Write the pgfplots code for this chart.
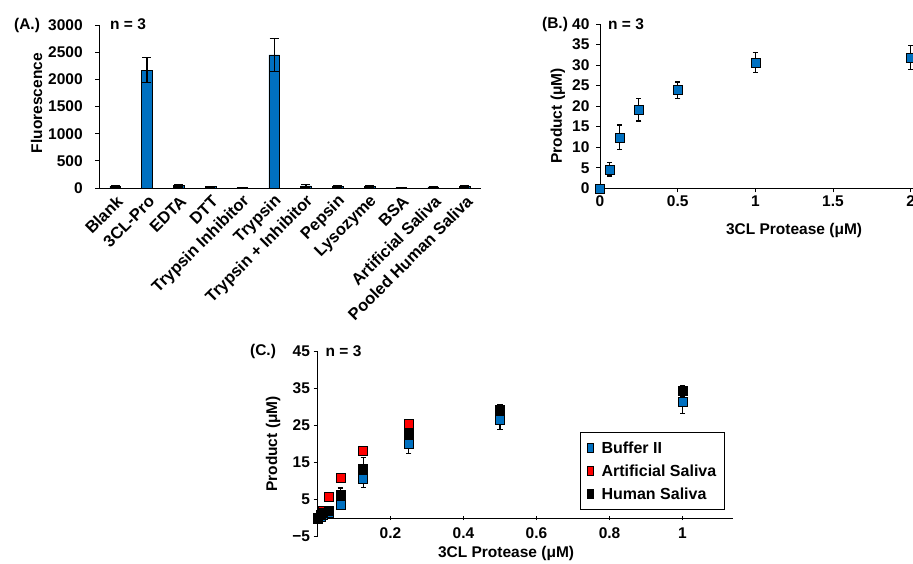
\documentclass[border=0pt]{standalone}
\usepackage{fontspec}
\setmainfont{Liberation Sans}
\usepackage{pgfplots}
\pgfplotsset{compat=1.18}
\definecolor{xlblue}{RGB}{0,112,192}
\definecolor{xlred}{RGB}{255,0,0}

\pgfplotsset{
  panel/.style={
    scale only axis,
    axis lines=left,
    axis line style={-, line width=1pt},
    font=\fontsize{15.5}{18}\selectfont\bfseries,
    tick label style={font=\fontsize{15.5}{18}\selectfont\bfseries},
    label style={font=\fontsize{15.5}{18}\selectfont\bfseries},
    /pgf/number format/assume math mode=true,
    /pgf/number format/1000 sep={},
    scaled ticks=false,
    tick align=outside,
    major tick length=4pt,
    tick style={black, line width=0.8pt},
    clip=false,
  },
  errs/.style={
    error bars/y dir=both, error bars/y explicit,
    error bars/error bar style={black, line width=1.2pt},
    error bars/error mark options={black, line width=1.2pt, mark size=#1, rotate=90},
  },
  errs/.default=2.6pt,
  sq/.style={only marks, mark=square*, mark size=4.5pt,
    mark options={draw=black, line width=0.5pt, fill=#1}, fill=#1, draw=black},
}

\begin{document}
\begin{tikzpicture}[x=1pt,y=1pt]

% (A.) specificity panel
\begin{axis}[panel, at={(99.2pt,-188pt)}, anchor=south west,
  width=381.6pt, height=163pt, ybar, bar width=10.7pt,
  xmin=-0.5, xmax=11.5, ymin=0, ymax=3000, ytick={0,500,...,3000},
  xtick={0,...,11},
  xticklabels={Blank,3CL-Pro,EDTA,DTT,Trypsin Inhibitor,Trypsin,Trypsin + Inhibitor,Pepsin,Lysozyme,BSA,Artificial Saliva,Pooled Human Saliva},
  x tick label style={rotate=45, anchor=east, xshift=2pt, yshift=-8pt,
    font=\fontsize{16.5}{19}\selectfont\bfseries},
  yticklabel shift=9pt,
  xtick style={draw=none},
  ylabel={Fluorescence},
  ylabel style={at={(axis description cs:-0.164,0.52)}, anchor=center},
]
\addplot[fill=xlblue, draw=black, line width=0.5pt, errs=4.5pt] coordinates {
  (0,30) +- (0,10)
  (1,2170) +- (0,230)
  (2,45) +- (0,25)
  (3,25) +- (0,10)
  (4,5) +- (0,5)
  (5,2450) +- (0,300)
  (6,40) +- (0,25)
  (7,30) +- (0,15)
  (8,25) +- (0,20)
  (9,10) +- (0,5)
  (10,20) +- (0,10)
  (11,30) +- (0,10)
};
\end{axis}
\node[font=\fontsize{15.5}{18}\selectfont\bfseries] at (27,-25) {(A.)};
\node[font=\fontsize{15.5}{18}\selectfont\bfseries] at (128,-24) {n = 3};

% (B.) dose response
\begin{axis}[panel, at={(600pt,-188.3pt)}, anchor=south west,
  width=326.2pt, height=164.3pt,
  xmin=0, xmax=2.1, ymin=0, ymax=40,
  xtick={0,0.5,1,1.5,2}, ytick={0,5,...,40},
  yticklabel shift=3pt,
  xlabel={3CL Protease (μM)}, ylabel={Product (μM)},
  xlabel style={at={(axis description cs:0.595,-0.254)}, anchor=center},
  ylabel style={at={(axis description cs:-0.129,0.44)}, anchor=center},
]
\addplot[sq=xlblue, errs] coordinates {
  (0,-0.2) +- (0,0.3)
  (0.0625,4.6) +- (0,1.6)
  (0.125,12.4) +- (0,3)
  (0.25,19.1) +- (0,2.7)
  (0.5,23.9) +- (0,2)
  (1,30.6) +- (0,2.4)
  (2,31.9) +- (0,2.9)
};
\end{axis}
\node[font=\fontsize{15.5}{18}\selectfont\bfseries] at (555,-24) {(B.)};
\node[font=\fontsize{15.5}{18}\selectfont\bfseries] at (626,-24) {n = 3};

% (C.) matrices
\begin{axis}[panel, at={(317.5pt,-536.7pt)}, anchor=south west,
  width=415.4pt, height=185.7pt,
  axis x line=middle, axis line style={-, line width=1pt},
  xmin=0, xmax=1.138, ymin=-5, ymax=45,
  xtick={0,0.2,0.4,0.6,0.8,1}, ytick={-5,5,15,25,35,45},
  yticklabels={−5,5,15,25,35,45},
  x tick label style={yshift=-4pt},
  xlabel={3CL Protease (μM)}, ylabel={Product (μM)},
  xlabel style={at={(axis description cs:0.454,-0.088)}, anchor=center},
  ylabel style={at={(axis description cs:-0.107,0.499)}, anchor=center},
  legend cell align=left,
  legend image code/.code={\path[#1, mark=none] (-3pt,-4.5pt) rectangle (3pt,4.5pt);},
  legend style={at={(axis description cs:0.632,0.564)}, anchor=north west,
    draw=black, line width=1pt, font=\fontsize{16}{19}\selectfont\bfseries,
    nodes={font=\fontsize{16}{19}\selectfont\bfseries},
    /tikz/every odd column/.append style={column sep=6pt},
    row sep=6pt, inner xsep=6pt, inner ysep=7pt},
]
\addplot[sq=xlblue, errs] coordinates {
  (0,0) +- (0,0.3)
  (0.0078125,0.5) +- (0,0.5)
  (0.015625,1.0) +- (0,0.5)
  (0.03125,1.5) +- (0,0.6)
  (0.0625,3.7) +- (0,1.3)
  (0.125,10.5) +- (0,2.3)
  (0.25,20.1) +- (0,2.7)
  (0.5,26.6) +- (0,2.7)
  (1,31.4) +- (0,3.2)
};
\addlegendentry{Buffer II}
\addplot[sq=xlred, errs] coordinates {
  (0,0.2) +- (0,0.3)
  (0.0078125,1.0) +- (0,0.4)
  (0.015625,2.1) +- (0,0.4)
  (0.03125,5.7) +- (0,0.4)
  (0.0625,10.8) +- (0,0.4)
  (0.125,18.1) +- (0,0.4)
  (0.25,25.4) +- (0,0.4)
};
\addlegendentry{Artificial Saliva}
\addplot[sq=black, errs] coordinates {
  (0,-0.1) +- (0,0.3)
  (0.0078125,0.9) +- (0,0.4)
  (0.015625,1.4) +- (0,0.5)
  (0.03125,1.9) +- (0,0.5)
  (0.0625,6.3) +- (0,1.8)
  (0.125,13.4) +- (0,3)
  (0.25,22.6) +- (0,2)
  (0.5,29.3) +- (0,1.2)
  (1,34.3) +- (0,1.5)
};
\addlegendentry{Human Saliva}
\end{axis}
\node[font=\fontsize{15.5}{18}\selectfont\bfseries] at (263,-351) {(C.)};
\node[font=\fontsize{15.5}{18}\selectfont\bfseries] at (343.5,-351) {n = 3};

\pgfresetboundingbox
\path[use as bounding box] (0,0) rectangle (913,-563);
\end{tikzpicture}
\end{document}
